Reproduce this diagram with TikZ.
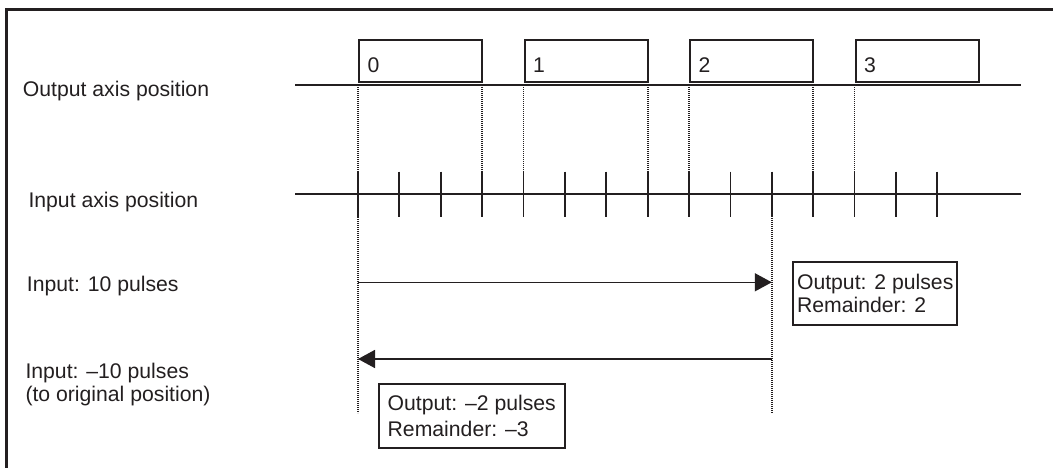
\documentclass[tikz,border=0pt]{standalone}
\usepackage{fontspec}
\setmainfont{Liberation Sans}
\usetikzlibrary{arrows.meta}
\definecolor{inkc}{HTML}{231F20}
\begin{document}
\begin{tikzpicture}[x=1pt,y=-1pt,
  every node/.style={font=\fontsize{21.2pt}{23.4pt}\selectfont, text=inkc, inner sep=0pt},
  frame/.style={draw=inkc, line width=3pt},
  axisline/.style={draw=inkc, line width=2pt},
  posbox/.style={draw=inkc, line width=2pt, minimum width=123pt, minimum height=42pt, anchor=south west},
  tickline/.style={draw=inkc, line width=1.8pt},
  guide/.style={draw=inkc, line width=1.7pt, dash pattern=on 1.2pt off 0.8pt},
  pulse/.style={draw=inkc, line width=1.6pt, -{Triangle[length=17pt,width=18pt]}},
  notebox/.style={draw=inkc, line width=1.8pt, align=left, anchor=north west}]
\useasboundingbox (0,0) rectangle (1053,468);
% frame
\draw[frame] (6,468) -- (6,10) -- (1053,10);
% axes
\coordinate (oa0) at (295,85.3);
\coordinate (oa1) at (1021,85.3);
\coordinate (ia0) at (295,194);
\coordinate (ia1) at (1021,194);
\draw[axisline] (oa0) -- (oa1);
\draw[axisline] (ia0) -- (ia1);
% output position boxes
\foreach \k in {0,1,2,3} {
  \node[posbox] (box\k) at ({358+165.5*\k},83) {};
  \node[anchor=base west] (num\k) at ({367.3+165.5*\k},72.7) {\k};
}
% input ticks
\foreach \i in {0,...,14} {
  \draw[tickline] ({358+41.38*\i},171.7) -- ({358+41.38*\i},216.7);
}
% guides
\foreach \i in {3,4,7,8,11,12} {
  \draw[guide] ({358+41.38*\i},85) -- ({358+41.38*\i},194);
}
\coordinate (g0top) at (358,85);
\coordinate (g0bot) at (358,413);
\draw[guide] (g0top) -- (g0bot);
\coordinate (g10top) at (771.8,218);
\coordinate (g10bot) at (771.8,413);
\draw[guide] (g10top) -- (g10bot);
% pulses
\coordinate (s1) at (358,282.3);
\coordinate (e1) at (771.8,282.3);
\draw[pulse] (s1) -- (e1);
\coordinate (s2) at (771.8,359);
\coordinate (e2) at (358,359);
\draw[pulse] (s2) -- (e2);
% notes
\node[notebox, minimum width=164pt, minimum height=63.6pt] (rem1) at (792.3,260.7) {Output: 2 pulses\\Remainder: 2};
\node[notebox, minimum width=186.3pt, minimum height=64pt] (rem2) at (377.7,383.3) {Output: –2 pulses\\[2.6pt]Remainder: –3};
% labels
\node[anchor=base west] (lout) at (22.7,96.7) {Output axis position};
\node[anchor=base west] (lin) at (28.3,207.5) {Input axis position};
\node[anchor=base west] (lp) at (26.7,291.7) {Input: 10 pulses};
\node[anchor=base west] (lm) at (25.3,378.3) {Input: –10 pulses};
\node[anchor=base west] (lm2) at (25.3,401.7) {(to original position)};
\end{tikzpicture}
\end{document}
